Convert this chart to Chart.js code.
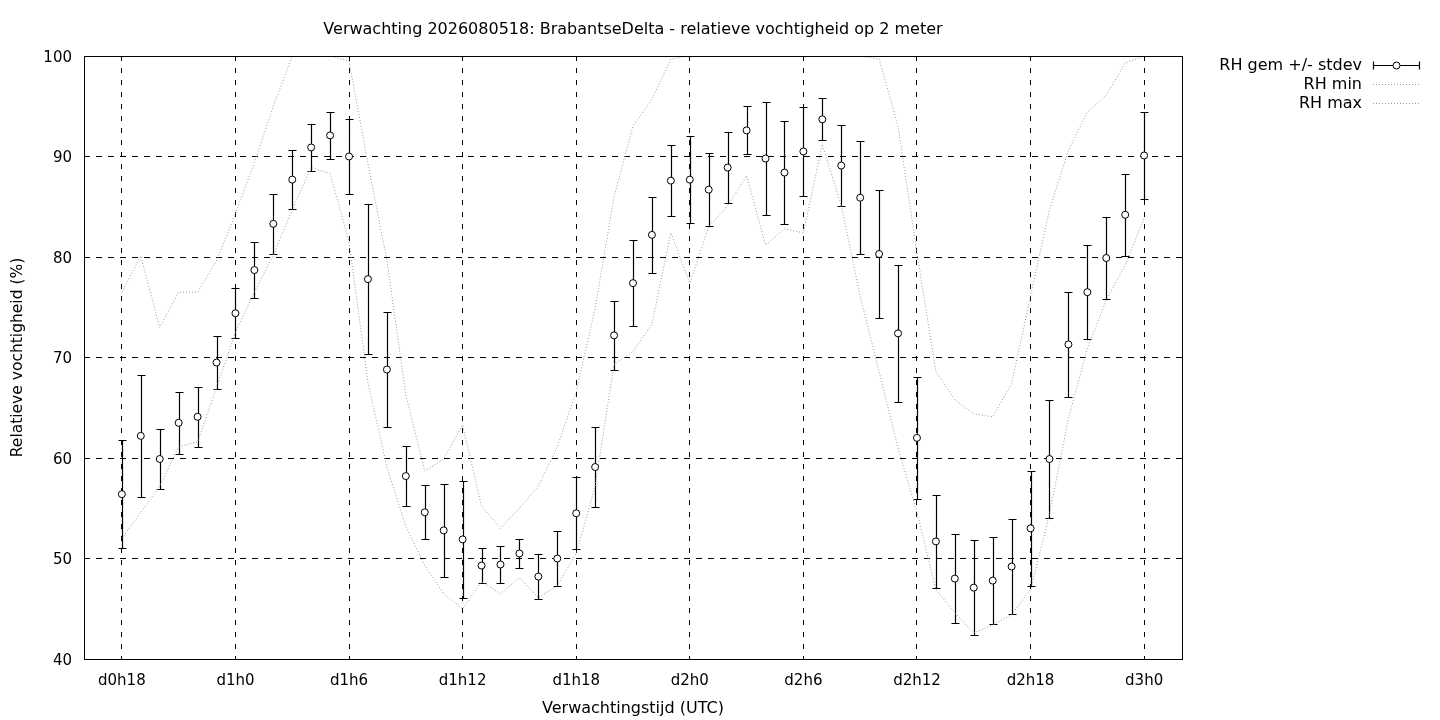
<!DOCTYPE html>
<html>
<head>
<meta charset="utf-8">
<script src="https://cdn.jsdelivr.net/npm/chart.js@4.4.1/dist/chart.umd.min.js"></script>
<style>
  html, body { margin: 0; padding: 0; background: #fff; }
  #wrap { width: 1440px; height: 720px; }
</style>
</head>
<body>
<div id="wrap"><canvas id="rhChart" width="1440" height="720"></canvas></div>
<script>
// verwachtingsuren sinds d0h0
const leadHours = [18, 19, 20, 21, 22, 23, 24, 25, 26, 27, 28, 29, 30, 31, 32, 33, 34, 35, 36,
  37, 38, 39, 40, 41, 42, 43, 44, 45, 46, 47, 48, 49, 50, 51, 52, 53, 54, 55, 56, 57, 58, 59,
  60, 61, 62, 63, 64, 65, 66, 67, 68, 69, 70, 71, 72];

const rhMean = [56.4, 62.2, 59.9, 63.5, 64.1, 69.5, 74.4, 78.7, 83.3, 87.7, 90.9, 92.1, 90.0,
  77.8, 68.8, 58.2, 54.6, 52.8, 51.9, 49.3, 49.4, 50.5, 48.2, 50.0, 54.5, 59.1, 72.2, 77.4,
  82.2, 87.6, 87.7, 86.7, 88.9, 92.6, 89.8, 88.4, 90.5, 93.7, 89.1, 85.9, 80.3, 72.4, 62.0,
  51.7, 48.0, 47.1, 47.8, 49.2, 53.0, 59.9, 71.3, 76.5, 79.9, 84.2, 90.1];

const rhStdev = [5.4, 6.1, 3.0, 3.1, 3.0, 2.6, 2.5, 2.8, 3.0, 2.9, 2.3, 2.3, 3.7, 7.5, 5.7,
  3.0, 2.7, 4.6, 5.8, 1.7, 1.8, 1.4, 2.2, 2.7, 3.6, 4.0, 3.4, 4.3, 3.8, 3.5, 4.3, 3.6, 3.5,
  2.4, 5.6, 5.1, 4.4, 2.1, 4.0, 5.6, 6.4, 6.8, 6.1, 4.6, 4.4, 4.7, 4.3, 4.7, 5.7, 5.9, 5.2,
  4.7, 4.1, 4.1, 4.3];

const rhMin = [52.0, 54.6, 57.2, 61.1, 61.6, 67.0, 72.5, 76.5, 80.2, 84.7, 88.9, 88.3, 81.5,
  67.5, 59.1, 53.2, 49.3, 46.5, 45.0, 47.7, 46.5, 48.1, 46.1, 47.3, 50.5, 57.2, 69.3, 70.6,
  73.3, 82.4, 77.4, 83.0, 85.1, 88.1, 81.2, 82.8, 82.4, 91.2, 85.1, 76.1, 68.6, 61.0, 54.6,
  46.9, 44.6, 42.6, 43.4, 44.4, 46.9, 54.4, 63.9, 70.9, 75.7, 79.2, 83.9];

const rhMax = [76.5, 80.1, 73.0, 76.5, 76.5, 79.6, 84.3, 89.4, 95.0, 100, 100, 100, 99.5,
  89.3, 79.7, 66.3, 58.7, 59.9, 63.3, 55.2, 53.0, 55.0, 57.2, 61.1, 66.6, 74.9, 86.0, 93.0,
  95.7, 99.7, 100, 100, 100, 100, 100, 100, 100, 100, 100, 100, 99.7, 93.0, 80.4, 68.6, 65.8,
  64.4, 64.1, 67.4, 76.1, 84.7, 90.6, 94.4, 96.1, 99.3, 100];

const tickHours = [18, 24, 30, 36, 42, 48, 54, 60, 66, 72];
const tickLabels = ['d0h18', 'd1h0', 'd1h6', 'd1h12', 'd1h18', 'd2h0', 'd2h6', 'd2h12', 'd2h18', 'd3h0'];

const chartTitle = 'Verwachting 2026080518: BrabantseDelta - relatieve vochtigheid op 2 meter';
const legendLabels = ['RH gem +/- stdev', 'RH min', 'RH max'];

const FONT = '"DejaVu Sans", sans-serif';
const dotColor = '#9a9a9a';

Chart.defaults.font.family = FONT;
Chart.defaults.font.size = 15;
Chart.defaults.color = '#000';

function toPoints(vals) {
  return leadHours.map(function(h, i) { return { x: h, y: vals[i] }; });
}

// foutbalken onder de punten tekenen
const errorBars = {
  id: 'errorBars',
  beforeDatasetDraw: function(chart, args) {
    if (args.index !== 2) return;
    const xs = chart.scales.x, ys = chart.scales.y, ctx = chart.ctx;
    ctx.save();
    ctx.strokeStyle = '#000';
    ctx.lineWidth = 1.2;
    ctx.beginPath();
    leadHours.forEach(function(h, i) {
      const px = Math.round(xs.getPixelForValue(h)) + 0.5;
      const top = Math.round(ys.getPixelForValue(rhMean[i] + rhStdev[i])) + 0.5;
      const bot = Math.round(ys.getPixelForValue(rhMean[i] - rhStdev[i])) + 0.5;
      ctx.moveTo(px, top); ctx.lineTo(px, bot);
      ctx.moveTo(px - 4, top); ctx.lineTo(px + 4, top);
      ctx.moveTo(px - 4, bot); ctx.lineTo(px + 4, bot);
    });
    ctx.stroke();
    ctx.restore();
  }
};

// kader, titel en legenda in gnuplot-stijl
const decor = {
  id: 'decor',
  afterDraw: function(chart) {
    const ctx = chart.ctx, a = chart.chartArea;
    ctx.save();
    ctx.strokeStyle = '#000';
    ctx.lineWidth = 1;
    ctx.setLineDash([]);
    ctx.strokeRect(Math.round(a.left) + 0.5, Math.round(a.top) + 0.5,
      Math.round(a.right - a.left), Math.round(a.bottom - a.top));

    ctx.fillStyle = '#000';
    ctx.font = '16px ' + FONT;
    ctx.textAlign = 'center';
    ctx.textBaseline = 'middle';
    ctx.fillText(chartTitle, (a.left + a.right) / 2, 30);

    const textRight = 1362, x0 = 1373, x1 = 1420;
    legendLabels.forEach(function(lbl, i) {
      const ly = 65 + i * 19;
      ctx.textAlign = 'right';
      ctx.fillStyle = '#000';
      ctx.fillText(lbl, textRight, ly + 1);
      const yy = Math.round(ly) + 0.5;
      ctx.beginPath();
      if (i === 0) {
        ctx.strokeStyle = '#000';
        ctx.lineWidth = 1.2;
        ctx.setLineDash([]);
        ctx.moveTo(x0, yy); ctx.lineTo(x1, yy);
        ctx.moveTo(x0 + 0.5, yy - 4); ctx.lineTo(x0 + 0.5, yy + 4);
        ctx.moveTo(x1 - 0.5, yy - 4); ctx.lineTo(x1 - 0.5, yy + 4);
        ctx.stroke();
        ctx.beginPath();
        ctx.lineWidth = 1;
        ctx.fillStyle = '#fff';
        ctx.arc((x0 + x1) / 2, yy, 3.5, 0, Math.PI * 2);
        ctx.fill();
        ctx.stroke();
      } else {
        ctx.strokeStyle = dotColor;
        ctx.lineWidth = 1;
        ctx.setLineDash([1, 2]);
        ctx.moveTo(x0, yy); ctx.lineTo(x1, yy);
        ctx.stroke();
      }
    });
    ctx.restore();
  }
};

const config = {
  type: 'line',
  data: {
    datasets: [
      {
        label: legendLabels[1],
        data: toPoints(rhMin),
        borderColor: dotColor,
        borderWidth: 1,
        borderDash: [1, 2],
        pointRadius: 0,
        fill: false,
        tension: 0
      },
      {
        label: legendLabels[2],
        data: toPoints(rhMax),
        borderColor: dotColor,
        borderWidth: 1,
        borderDash: [1, 2],
        pointRadius: 0,
        fill: false,
        tension: 0
      },
      {
        label: legendLabels[0],
        data: toPoints(rhMean),
        showLine: false,
        pointRadius: 3.5,
        pointBackgroundColor: '#fff',
        pointBorderColor: '#000',
        pointBorderWidth: 1
      }
    ]
  },
  options: {
    responsive: false,
    animation: false,
    layout: { padding: { top: 56, right: 258, left: 0, bottom: 0 } },
    scales: {
      x: {
        type: 'linear',
        min: 16,
        max: 74,
        afterBuildTicks: function(s) {
          s.ticks = tickHours.map(function(v) { return { value: v }; });
        },
        ticks: {
          autoSkip: false,
          maxRotation: 0,
          padding: 13,
          callback: function(value, index) { return tickLabels[index]; }
        },
        grid: { color: '#000', lineWidth: 1, drawTicks: false },
        border: { display: false, dash: [5, 7] },
        title: { display: true, text: 'Verwachtingstijd (UTC)', font: { size: 16 }, padding: { bottom: 2 } },
        afterFit: function(s) { s.height = 61; }
      },
      y: {
        type: 'linear',
        min: 40,
        max: 100,
        ticks: { stepSize: 10, padding: 12, labelOffset: 2 },
        grid: { color: '#000', lineWidth: 1, drawTicks: false },
        border: { display: false, dash: [6, 6] },
        title: { display: true, text: 'Relatieve vochtigheid (%)', font: { size: 15.5 }, padding: { top: 9 } },
        afterFit: function(s) { s.width = 84; }
      }
    },
    plugins: {
      legend: { display: false },
      title: { display: false },
      tooltip: { enabled: false }
    }
  },
  plugins: [errorBars, decor]
};

new Chart(document.getElementById('rhChart').getContext('2d'), config);
</script>
</body>
</html>
